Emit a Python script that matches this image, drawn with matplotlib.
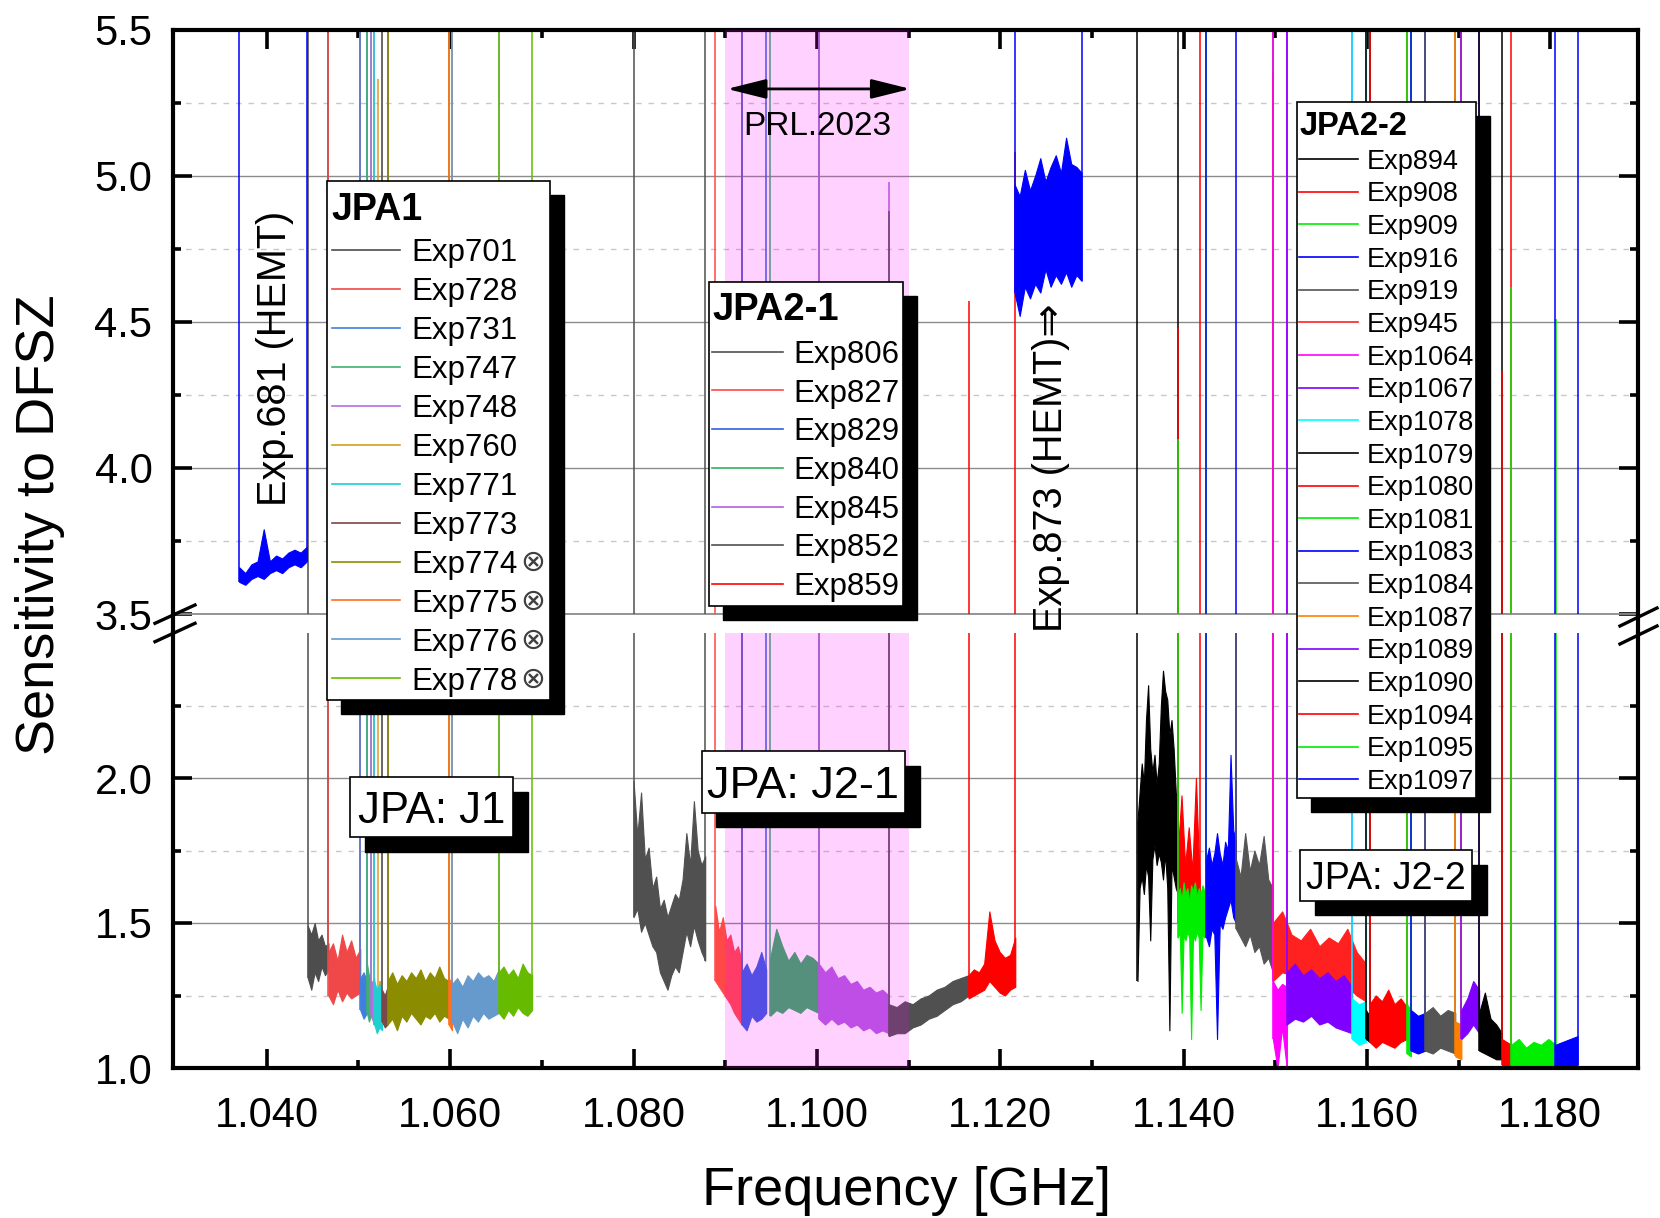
import numpy as np
import matplotlib.pyplot as plt
from matplotlib.patches import Rectangle

plt.rcParams['font.family'] = ['Liberation Sans', 'DejaVu Sans']

W, H = 1660, 1218

# ---------------- data ----------------
# HEMT runs, not in any legend
hemt_names = ["Exp681", "Exp873"]
hemt_f0 = [1.03698, 1.12156]
hemt_f1 = [1.04436, 1.12887]
hemt_lo = [[3.61, 3.60, 3.62, 3.63, 3.62, 3.64, 3.65, 3.64, 3.66, 3.67, 3.66, 3.68],
           [4.60, 4.52, 4.62, 4.58, 4.63, 4.60, 4.68, 4.62, 4.66, 4.63, 4.67, 4.62, 4.66, 4.64]]
hemt_hi = [[3.66, 3.64, 3.67, 3.68, 3.79, 3.68, 3.70, 3.69, 3.71, 3.72, 3.71, 3.73],
           [4.97, 4.93, 5.02, 4.95, 5.00, 5.06, 4.98, 5.03, 5.07, 5.01, 5.13, 5.04, 5.03, 5.01]]
hemt_colors = ['#0000ff', '#0000ff']
hemt_top_l = [6.0, 6.0]
hemt_top_r = [6.0, 6.0]

# JPA1
jpa1_names = ["Exp701", "Exp728", "Exp731", "Exp747", "Exp748", "Exp760",
              "Exp771", "Exp773", "Exp774", "Exp775", "Exp776", "Exp778"]
jpa1_crossed = [False] * 8 + [True] * 4
jpa1_colors = ['#4d4d4d', '#f04848', '#3f7fe0', '#40b070', '#b070e0', '#d4a020',
               '#20d0d0', '#7a4848', '#8c8c00', '#ff7020', '#6699cc', '#66bb00']
jpa1_f0 = [1.04447, 1.04672, 1.05019, 1.05092, 1.05135, 1.05215,
           1.05172, 1.05256, 1.05317, 1.05984, 1.06020, 1.06530]
jpa1_f1 = [1.04672, 1.05019, 1.05092, 1.05135, 1.05172, 1.05240,
           1.05256, 1.05317, 1.05984, 1.06020, 1.06530, 1.06894]
jpa1_lo = [[1.31, 1.27, 1.33, 1.30, 1.35, 1.32, 1.34],
           [1.25, 1.22, 1.27, 1.23, 1.26, 1.24, 1.25, 1.26],
           [1.20, 1.17, 1.19],
           [1.19, 1.16, 1.18],
           [1.18, 1.15],
           [1.16, 1.15],
           [1.15, 1.12, 1.14, 1.13],
           [1.16, 1.14, 1.15],
           [1.15, 1.17, 1.13, 1.18, 1.16, 1.19, 1.17, 1.15, 1.18, 1.17, 1.19, 1.16, 1.18, 1.17],
           [1.15, 1.13],
           [1.16, 1.12, 1.17, 1.14, 1.18, 1.16, 1.19, 1.17, 1.18, 1.19],
           [1.19, 1.17, 1.20, 1.18, 1.21, 1.19, 1.18, 1.20]]
jpa1_hi = [[1.49, 1.46, 1.50, 1.44, 1.46, 1.42, 1.43],
           [1.40, 1.43, 1.37, 1.46, 1.40, 1.44, 1.38, 1.41],
           [1.31, 1.33, 1.30],
           [1.36, 1.32, 1.30],
           [1.29, 1.31],
           [1.28, 1.30],
           [1.30, 1.27, 1.29, 1.26],
           [1.27, 1.25, 1.28],
           [1.30, 1.33, 1.29, 1.32, 1.30, 1.33, 1.31, 1.34, 1.30, 1.33, 1.31, 1.35, 1.31, 1.30],
           [1.31, 1.29],
           [1.29, 1.31, 1.28, 1.32, 1.30, 1.33, 1.31, 1.32, 1.30, 1.34],
           [1.33, 1.35, 1.32, 1.34, 1.31, 1.36, 1.33, 1.32]]
jpa1_top_l = [6, 6, 6, 6, 6, 5.33, 6, 6, 6, 6, 6, 6]
jpa1_top_r = [6, 6, 6, 6, 6, 1.3, 6, 6, 6, 6, 6, 6]

# JPA2-1
jpa21_names = ["Exp806", "Exp827", "Exp829", "Exp840", "Exp845", "Exp852", "Exp859"]
jpa21_colors = ['#505050', '#ff4848', '#3060e0', '#30b060', '#b060e0', '#505050', '#ff0000']
jpa21_f0 = [1.08000, 1.08891, 1.09180, 1.09491, 1.10020, 1.10783, 1.11655]
jpa21_f1 = [1.08782, 1.09180, 1.09447, 1.10018, 1.10783, 1.11655, 1.12164]
jpa21_lo = [[1.52, 1.55, 1.47, 1.50, 1.46, 1.42, 1.40, 1.33, 1.30, 1.27,
             1.32, 1.35, 1.33, 1.40, 1.47, 1.42, 1.49, 1.44, 1.40, 1.37],
            [1.30, 1.28, 1.26, 1.24, 1.22, 1.19, 1.17, 1.15],
            [1.15, 1.13, 1.18, 1.16, 1.17, 1.19],
            [1.18, 1.20, 1.19, 1.21, 1.20, 1.19, 1.21, 1.20, 1.19],
            [1.17, 1.15, 1.17, 1.15, 1.16, 1.14, 1.15, 1.13, 1.14, 1.12, 1.13, 1.12],
            [1.11, 1.12, 1.12, 1.14, 1.15, 1.17, 1.18, 1.20, 1.22, 1.23, 1.25],
            [1.24, 1.25, 1.26, 1.27, 1.30, 1.28, 1.26, 1.25, 1.27, 1.28]]
jpa21_hi = [[1.99, 1.80, 1.95, 1.72, 1.76, 1.62, 1.66, 1.55, 1.58, 1.52,
             1.56, 1.60, 1.58, 1.65, 1.81, 1.70, 1.92, 1.75, 1.70, 1.73],
            [1.56, 1.47, 1.52, 1.44, 1.46, 1.40, 1.42, 1.37],
            [1.33, 1.36, 1.32, 1.35, 1.40, 1.34],
            [1.38, 1.48, 1.42, 1.37, 1.40, 1.36, 1.39, 1.38, 1.36],
            [1.36, 1.33, 1.35, 1.31, 1.32, 1.29, 1.30, 1.27, 1.28, 1.26, 1.27, 1.25],
            [1.22, 1.21, 1.23, 1.22, 1.24, 1.25, 1.27, 1.28, 1.30, 1.31, 1.32],
            [1.32, 1.34, 1.33, 1.36, 1.54, 1.44, 1.40, 1.38, 1.39, 1.45]]
jpa21_top_l = [6, 6, 6, 6, 6, 4.88, 4.57]
jpa21_top_r = [6, 6, 6, 6, 4.98, 1.3, 5.08]

# JPA2-2
jpa22_names = ["Exp894", "Exp908", "Exp909", "Exp916", "Exp919", "Exp945", "Exp1064",
               "Exp1067", "Exp1078", "Exp1079", "Exp1080", "Exp1081", "Exp1083",
               "Exp1084", "Exp1087", "Exp1089", "Exp1090", "Exp1094", "Exp1095", "Exp1097"]
jpa22_colors = ['#000000', '#ff0000', '#00ee00', '#0000ff', '#555555', '#ff2020', '#ff00ff',
                '#8000ff', '#00ffff', '#000000', '#ff0000', '#00ee00', '#0000ff',
                '#555555', '#ff8000', '#8000ff', '#000000', '#ff0000', '#00ee00', '#0000ff']
jpa22_f0 = [1.13497, 1.13938, 1.13938, 1.14247, 1.14571, 1.14974, 1.14974,
            1.15125, 1.15836, 1.15989, 1.16028, 1.16436, 1.16479,
            1.16635, 1.16963, 1.17030, 1.17224, 1.17472, 1.17574, 1.18054]
jpa22_f1 = [1.13938, 1.14174, 1.14247, 1.14571, 1.14974, 1.15989, 1.15125,
            1.15836, 1.15989, 1.16028, 1.16436, 1.16479, 1.16635,
            1.16963, 1.17030, 1.17224, 1.17472, 1.17574, 1.18060, 1.18298]
jpa22_lo = [[1.30, 1.62, 1.66, 1.60, 1.70, 1.66, 1.44, 1.72, 1.77, 1.70,
             1.74, 1.71, 1.65, 1.74, 1.62, 1.13, 1.70, 1.66, 1.62, 1.60],
            [1.50, 1.52, 1.48, 1.50, 1.47, 1.52, 1.50],
            [1.45, 1.47, 1.19, 1.46, 1.44, 1.47, 1.45, 1.10,
             1.46, 1.44, 1.47, 1.45, 1.20, 1.46, 1.45, 1.47],
            [1.45, 1.42, 1.48, 1.46, 1.10, 1.50, 1.48, 1.52, 1.55, 1.58, 1.52, 1.50],
            [1.48, 1.45, 1.42, 1.46, 1.40, 1.42, 1.36, 1.38, 1.33],
            [1.30, 1.33, 1.32, 1.30, 1.32, 1.30, 1.29, 1.29, 1.28, 1.25, 1.23],
            [1.10, 1.00, 1.14, 1.00],
            [1.15, 1.17, 1.16, 1.18, 1.15, 1.16, 1.14, 1.13, 1.12],
            [1.10, 1.08, 1.09],
            [1.10, 1.09],
            [1.09, 1.07, 1.09, 1.08, 1.07, 1.09, 1.10],
            [1.05, 1.04],
            [1.06, 1.05, 1.06],
            [1.06, 1.05, 1.07, 1.06, 1.05],
            [1.04, 1.03],
            [1.10, 1.12, 1.15, 1.12],
            [1.06, 1.05, 1.04, 1.03, 1.03],
            [1.01, 1.00],
            [1.00, 1.01, 1.00, 1.01, 1.00, 1.01, 1.00],
            [1.00, 1.01, 1.00, 1.01]]
jpa22_hi = [[1.85, 1.95, 2.05, 1.98, 2.20, 2.32, 2.10, 2.02, 2.08, 1.98,
             2.05, 2.25, 2.37, 2.30, 2.27, 2.15, 2.20, 2.10, 1.95, 1.90],
            [1.75, 1.94, 1.70, 1.83, 1.68, 2.00, 1.65],
            [1.60, 1.62, 1.58, 1.64, 1.60, 1.62, 1.57, 1.63,
             1.61, 1.64, 1.59, 1.62, 1.60, 1.63, 1.61, 1.60],
            [1.72, 1.76, 1.70, 1.74, 1.81, 1.74, 1.70, 1.78, 1.75, 2.08, 1.82, 1.78],
            [1.72, 1.66, 1.81, 1.68, 1.75, 1.70, 1.80, 1.65, 1.62],
            [1.50, 1.54, 1.46, 1.44, 1.48, 1.42, 1.45, 1.43, 1.48, 1.40, 1.36],
            [1.30, 1.27, 1.29, 1.28],
            [1.33, 1.36, 1.32, 1.34, 1.31, 1.33, 1.30, 1.32, 1.28],
            [1.24, 1.22, 1.23],
            [1.20, 1.18],
            [1.22, 1.25, 1.23, 1.27, 1.22, 1.24, 1.21],
            [1.22, 1.20],
            [1.20, 1.18, 1.19],
            [1.19, 1.21, 1.18, 1.20, 1.19],
            [1.16, 1.15],
            [1.20, 1.24, 1.30, 1.27],
            [1.19, 1.26, 1.17, 1.15, 1.12],
            [1.10, 1.08],
            [1.08, 1.10, 1.07, 1.09, 1.08, 1.10, 1.08],
            [1.08, 1.09, 1.10, 1.11]]
jpa22_top_l = [6, 4.48, 4.10, 6, 2.6, 5.35, 6, 6, 6, 6, 6, 6, 6, 6, 6, 6, 6, 4.33, 4.62, 6]
jpa22_top_r = [6, 6, 6, 6, 6, 6, 6, 6, 6, 6, 6, 6, 6, 6, 6, 6, 6, 6, 4.51, 6]

prl_band = (1.090, 1.110)

# ---------------- layout ----------------
AX_L, AX_R = 173.3, 1638.3
TOP_Y0, TOP_Y1 = 29.6, 614.0   # 5.5 .. 3.5
BOT_Y0, BOT_Y1 = 633.0, 1068.0  # 2.5 .. 1.0


def frac(x0, y0, x1, y1):
    return [x0 / W, 1 - y1 / H, (x1 - x0) / W, (y1 - y0) / H]


def draw_runs(ax, f0, f1, lo, hi, colors, top_l, top_r):
    for a, b, l, h, c, tl, tr in zip(f0, f1, lo, hi, colors, top_l, top_r):
        f = np.linspace(a, b, len(l))
        ax.fill_between(f, l, h, color=c, lw=0.8, zorder=2)
        ax.vlines([a, b], [l[0], l[-1]], [tl, tr], colors=c, lw=1.1, zorder=2)


fig = plt.figure(figsize=(W / 100, H / 100), dpi=100)
ax_top = fig.add_axes(frac(AX_L, TOP_Y0, AX_R, TOP_Y1))
ax_bot = fig.add_axes(frac(AX_L, BOT_Y0, AX_R, BOT_Y1))

for ax in (ax_top, ax_bot):
    draw_runs(ax, jpa1_f0, jpa1_f1, jpa1_lo, jpa1_hi, jpa1_colors, jpa1_top_l, jpa1_top_r)
    draw_runs(ax, jpa21_f0, jpa21_f1, jpa21_lo, jpa21_hi, jpa21_colors, jpa21_top_l, jpa21_top_r)
    draw_runs(ax, jpa22_f0, jpa22_f1, jpa22_lo, jpa22_hi, jpa22_colors, jpa22_top_l, jpa22_top_r)
    draw_runs(ax, hemt_f0, hemt_f1, hemt_lo, hemt_hi, hemt_colors, hemt_top_l, hemt_top_r)
    ax.axvspan(*prl_band, color='#ff00ff', alpha=0.18, lw=0, zorder=3)

    ax.set_xlim(1.0298, 1.1896)
    ax.set_xticks(np.arange(1.04, 1.181, 0.02))
    ax.set_xticks(np.arange(1.05, 1.171, 0.02), minor=True)
    ax.xaxis.set_major_formatter(plt.FormatStrFormatter('%.3f'))
    ax.yaxis.set_major_formatter(plt.FormatStrFormatter('%.1f'))
    ax.set_axisbelow(True)
    ax.yaxis.grid(True, which='major', color='#8c8c8c', lw=1.0)
    ax.yaxis.grid(True, which='minor', color='#c8c8c8', lw=1.0, ls=(0, (4, 5)))
    for s in ax.spines.values():
        s.set_linewidth(3)
    ax.tick_params(which='both', direction='in', width=2.6, labelsize=30)
    ax.tick_params(which='major', length=14, pad=15)
    ax.tick_params(which='minor', length=6)

ax_top.set_ylim(3.5, 5.5)
ax_top.set_yticks([3.5, 4.0, 4.5, 5.0, 5.5])
ax_top.set_yticks([3.75, 4.25, 4.75, 5.25], minor=True)
ax_top.spines['bottom'].set_visible(False)
ax_top.tick_params(which='both', left=True, right=True, top=True, bottom=False,
                   labelbottom=False)
ax_top.axhline(3.5, color='#8c8c8c', lw=1.3, zorder=1, clip_on=False)

ax_bot.set_ylim(1.0, 2.5)
ax_bot.set_yticks([1.0, 1.5, 2.0])
ax_bot.set_yticks([1.25, 1.75, 2.25], minor=True)
ax_bot.spines['top'].set_visible(False)
ax_bot.tick_params(which='both', left=True, right=True, top=False, bottom=True)
ax_bot.tick_params(axis='x', pad=20)

# PRL 2023 marker
ax_top.annotate('', xy=(1.0902, 5.297), xytext=(1.1102, 5.297),
                arrowprops=dict(arrowstyle='<|-|>,head_length=1.2,head_width=0.3',
                                color='k', lw=2, mutation_scale=20, shrinkA=0, shrinkB=0),
                zorder=5)
ax_top.text(1.1000, 5.17, 'PRL.2023', fontsize=24, ha='center', va='center', zorder=5)

# ---------------- overlay in pixel coordinates ----------------
ov = fig.add_axes([0, 0, 1, 1], zorder=10)
ov.set_xlim(0, W)
ov.set_ylim(H, 0)
ov.axis('off')

# spine through the break gap + break marks
for x in (AX_L, AX_R):
    ov.plot([x, x], [TOP_Y1, BOT_Y0], color='k', lw=3, solid_capstyle='butt')
ov.plot([155, 195], [623.3, 605], color='k', lw=2.4)
ov.plot([155, 195], [641.7, 623.3], color='k', lw=2.4)
ov.plot([1620, 1657], [626, 608], color='k', lw=2.4)
ov.plot([1620, 1657], [644, 626], color='k', lw=2.4)


def baseline(yc, size):
    return yc + 0.358 * size * 100 / 72


def legend_box(box, title, tsize, tx, ty, names, colors, size, y0, dy, hx, txt_x,
               crossed=None, sh=14):
    x0, y0b, x1, y1 = box
    ov.add_patch(Rectangle((x0 + sh, y0b + sh), x1 - x0, y1 - y0b, fc='k', ec='k', lw=1, zorder=1))
    ov.add_patch(Rectangle((x0, y0b), x1 - x0, y1 - y0b, fc='w', ec='k', lw=1.2, zorder=2))
    ov.text(tx, baseline(ty, tsize), title, fontsize=tsize, fontweight='bold',
            ha='left', va='baseline', zorder=3)
    for i, (n, c) in enumerate(zip(names, colors)):
        y = y0 + i * dy
        ov.plot(hx, [y, y], color=c, lw=1.2, zorder=3)
        t = ov.text(txt_x, baseline(y, size), n, fontsize=size, ha='left', va='baseline', zorder=3)
        if crossed is not None and crossed[i]:
            ov.annotate('\u2297', xy=(1, 0.5), xycoords=t, xytext=(1.5, 1.5),
                        textcoords='offset points', fontsize=size * 0.95, color='#404040',
                        ha='left', va='center', family='DejaVu Sans', zorder=3)


legend_box((327.3, 180.7, 550, 700), 'JPA1', 27, 331.7, 206.7, jpa1_names, jpa1_colors,
           22.5, 250, 38.94, [331.7, 400], 411.7, crossed=jpa1_crossed)
legend_box((709.3, 281.7, 903.3, 606), 'JPA2-1', 27.5, 712.7, 306.7, jpa21_names, jpa21_colors,
           22.5, 351.7, 38.72, [711.7, 782.7], 793.3)
legend_box((1296.7, 101.7, 1475.7, 797.7), 'JPA2-2', 23.5, 1299.3, 123.3, jpa22_names,
           jpa22_colors, 19.5, 159, 32.65, [1299, 1357.7], 1366.7)


def label_box(box, text, size, sh=14.5):
    x0, y0, x1, y1 = box
    ov.add_patch(Rectangle((x0 + sh, y0 + sh), x1 - x0, y1 - y0, fc='k', ec='k', lw=1, zorder=1))
    ov.add_patch(Rectangle((x0, y0), x1 - x0, y1 - y0, fc='w', ec='k', lw=1.2, zorder=2))
    ov.text((x0 + x1) / 2, baseline((y0 + y1) / 2, size), text, fontsize=size,
            ha='center', va='baseline', zorder=3)


label_box((350, 777.3, 513.3, 837.3), 'JPA: J1', 31.5)
label_box((701.7, 751, 905, 812.7), 'JPA: J2-1', 32.5)
label_box((1300.2, 850, 1472, 900.7), 'JPA: J2-2', 27)

ov.text(275, 358, 'Exp.681 (HEMT)', fontsize=28.5, rotation=90, ha='center', va='center')
ov.text(1051, 468, 'Exp.873 (HEMT)\u21d2', fontsize=28.5, rotation=90, ha='center', va='center')

ov.text(906, 1191, 'Frequency [GHz]', fontsize=39, ha='center', va='center')
ov.text(40, 525, 'Sensitivity to DFSZ', fontsize=39, rotation=90, ha='center', va='center')

fig.savefig('out.png', dpi=100)
